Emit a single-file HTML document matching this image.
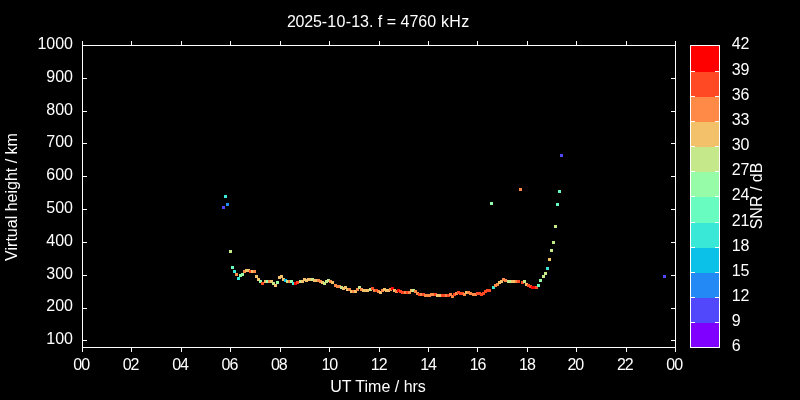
<!DOCTYPE html>
<html lang="en">
<head>
<meta charset="utf-8">
<title>2025-10-13. f = 4760 kHz</title>
<style>
html,body{margin:0;padding:0;background:#000;}
body{width:800px;height:400px;overflow:hidden;}
svg{display:block;}
text{font-family:"Liberation Sans",sans-serif;font-size:16px;fill:#fff;}
.ln{fill:#fff;shape-rendering:crispEdges;}
.pt{shape-rendering:crispEdges;}
</style>
</head>
<body>
<svg width="800" height="400" viewBox="0 0 800 400">
<rect x="0" y="0" width="800" height="400" fill="#000"/>
<g id="points">
<rect class="pt" x="222" y="206" width="3" height="3" fill="#5148fc"/>
<rect class="pt" x="224" y="195" width="3" height="3" fill="#3ae8d7"/>
<rect class="pt" x="226" y="203" width="3" height="3" fill="#238af5"/>
<rect class="pt" x="229" y="250" width="3" height="3" fill="#c5e88a"/>
<rect class="pt" x="231" y="266" width="3" height="3" fill="#68fcc1"/>
<rect class="pt" x="233" y="270" width="3" height="3" fill="#3ae8d7"/>
<rect class="pt" x="235" y="273" width="3" height="3" fill="#ff8a48"/>
<rect class="pt" x="237" y="277" width="3" height="3" fill="#3ae8d7"/>
<rect class="pt" x="239" y="274" width="3" height="3" fill="#97fca7"/>
<rect class="pt" x="241" y="273" width="3" height="3" fill="#97fca7"/>
<rect class="pt" x="243" y="270" width="3" height="3" fill="#ff8a48"/>
<rect class="pt" x="245" y="269" width="3" height="3" fill="#f3c16a"/>
<rect class="pt" x="247" y="269" width="3" height="3" fill="#f3c16a"/>
<rect class="pt" x="249" y="270" width="3" height="3" fill="#ff4824"/>
<rect class="pt" x="251" y="270" width="3" height="3" fill="#f3c16a"/>
<rect class="pt" x="253" y="270" width="3" height="3" fill="#ff8a48"/>
<rect class="pt" x="255" y="275" width="3" height="3" fill="#f3c16a"/>
<rect class="pt" x="257" y="278" width="3" height="3" fill="#f3c16a"/>
<rect class="pt" x="259" y="280" width="3" height="3" fill="#97fca7"/>
<rect class="pt" x="261" y="282" width="3" height="3" fill="#ff4824"/>
<rect class="pt" x="264" y="280" width="3" height="3" fill="#f3c16a"/>
<rect class="pt" x="266" y="280" width="3" height="3" fill="#97fca7"/>
<rect class="pt" x="268" y="280" width="3" height="3" fill="#ff8a48"/>
<rect class="pt" x="270" y="280" width="3" height="3" fill="#f3c16a"/>
<rect class="pt" x="272" y="282" width="3" height="3" fill="#c5e88a"/>
<rect class="pt" x="274" y="284" width="3" height="3" fill="#f3c16a"/>
<rect class="pt" x="276" y="281" width="3" height="3" fill="#97fca7"/>
<rect class="pt" x="278" y="276" width="3" height="3" fill="#f3c16a"/>
<rect class="pt" x="280" y="275" width="3" height="3" fill="#f3c16a"/>
<rect class="pt" x="282" y="278" width="3" height="3" fill="#f3c16a"/>
<rect class="pt" x="284" y="279" width="3" height="3" fill="#0cc1e8"/>
<rect class="pt" x="286" y="280" width="3" height="3" fill="#c5e88a"/>
<rect class="pt" x="288" y="280" width="3" height="3" fill="#ff8a48"/>
<rect class="pt" x="290" y="280" width="3" height="3" fill="#97fca7"/>
<rect class="pt" x="292" y="282" width="3" height="3" fill="#3ae8d7"/>
<rect class="pt" x="294" y="282" width="3" height="3" fill="#ff0000"/>
<rect class="pt" x="296" y="281" width="3" height="3" fill="#ff4824"/>
<rect class="pt" x="299" y="280" width="3" height="3" fill="#c5e88a"/>
<rect class="pt" x="301" y="280" width="3" height="3" fill="#f3c16a"/>
<rect class="pt" x="303" y="278" width="3" height="3" fill="#f3c16a"/>
<rect class="pt" x="305" y="279" width="3" height="3" fill="#f3c16a"/>
<rect class="pt" x="307" y="278" width="3" height="3" fill="#f3c16a"/>
<rect class="pt" x="309" y="278" width="3" height="3" fill="#f3c16a"/>
<rect class="pt" x="311" y="278" width="3" height="3" fill="#c5e88a"/>
<rect class="pt" x="313" y="279" width="3" height="3" fill="#f3c16a"/>
<rect class="pt" x="315" y="279" width="3" height="3" fill="#f3c16a"/>
<rect class="pt" x="317" y="279" width="3" height="3" fill="#ff8a48"/>
<rect class="pt" x="319" y="280" width="3" height="3" fill="#ff8a48"/>
<rect class="pt" x="321" y="281" width="3" height="3" fill="#f3c16a"/>
<rect class="pt" x="323" y="282" width="3" height="3" fill="#c5e88a"/>
<rect class="pt" x="325" y="280" width="3" height="3" fill="#c5e88a"/>
<rect class="pt" x="327" y="279" width="3" height="3" fill="#c5e88a"/>
<rect class="pt" x="329" y="280" width="3" height="3" fill="#ff8a48"/>
<rect class="pt" x="331" y="281" width="3" height="3" fill="#f3c16a"/>
<rect class="pt" x="334" y="284" width="3" height="3" fill="#ff8a48"/>
<rect class="pt" x="336" y="285" width="3" height="3" fill="#ff8a48"/>
<rect class="pt" x="338" y="285" width="3" height="3" fill="#ff8a48"/>
<rect class="pt" x="340" y="286" width="3" height="3" fill="#c5e88a"/>
<rect class="pt" x="342" y="287" width="3" height="3" fill="#f3c16a"/>
<rect class="pt" x="344" y="286" width="3" height="3" fill="#f3c16a"/>
<rect class="pt" x="346" y="288" width="3" height="3" fill="#f3c16a"/>
<rect class="pt" x="348" y="288" width="3" height="3" fill="#ff8a48"/>
<rect class="pt" x="350" y="290" width="3" height="3" fill="#f3c16a"/>
<rect class="pt" x="352" y="290" width="3" height="3" fill="#ff8a48"/>
<rect class="pt" x="354" y="290" width="3" height="3" fill="#f3c16a"/>
<rect class="pt" x="356" y="288" width="3" height="3" fill="#ff8a48"/>
<rect class="pt" x="358" y="286" width="3" height="3" fill="#c5e88a"/>
<rect class="pt" x="360" y="288" width="3" height="3" fill="#ff8a48"/>
<rect class="pt" x="362" y="289" width="3" height="3" fill="#f3c16a"/>
<rect class="pt" x="364" y="289" width="3" height="3" fill="#f3c16a"/>
<rect class="pt" x="366" y="289" width="3" height="3" fill="#f3c16a"/>
<rect class="pt" x="369" y="288" width="3" height="3" fill="#c5e88a"/>
<rect class="pt" x="371" y="287" width="3" height="3" fill="#ff4824"/>
<rect class="pt" x="373" y="289" width="3" height="3" fill="#ff8a48"/>
<rect class="pt" x="375" y="289" width="3" height="3" fill="#ff4824"/>
<rect class="pt" x="377" y="290" width="3" height="3" fill="#ff8a48"/>
<rect class="pt" x="379" y="291" width="3" height="3" fill="#f3c16a"/>
<rect class="pt" x="381" y="289" width="3" height="3" fill="#ff8a48"/>
<rect class="pt" x="383" y="288" width="3" height="3" fill="#f3c16a"/>
<rect class="pt" x="385" y="289" width="3" height="3" fill="#f3c16a"/>
<rect class="pt" x="387" y="289" width="3" height="3" fill="#f3c16a"/>
<rect class="pt" x="389" y="288" width="3" height="3" fill="#ff8a48"/>
<rect class="pt" x="391" y="287" width="3" height="3" fill="#ff0000"/>
<rect class="pt" x="393" y="289" width="3" height="3" fill="#f3c16a"/>
<rect class="pt" x="395" y="290" width="3" height="3" fill="#ff8a48"/>
<rect class="pt" x="397" y="289" width="3" height="3" fill="#ff0000"/>
<rect class="pt" x="399" y="290" width="3" height="3" fill="#ff4824"/>
<rect class="pt" x="401" y="291" width="3" height="3" fill="#ff4824"/>
<rect class="pt" x="404" y="291" width="3" height="3" fill="#ff8a48"/>
<rect class="pt" x="406" y="291" width="3" height="3" fill="#ff4824"/>
<rect class="pt" x="408" y="291" width="3" height="3" fill="#ff8a48"/>
<rect class="pt" x="410" y="289" width="3" height="3" fill="#f3c16a"/>
<rect class="pt" x="412" y="289" width="3" height="3" fill="#c5e88a"/>
<rect class="pt" x="414" y="290" width="3" height="3" fill="#ff8a48"/>
<rect class="pt" x="416" y="292" width="3" height="3" fill="#ff8a48"/>
<rect class="pt" x="418" y="293" width="3" height="3" fill="#ff4824"/>
<rect class="pt" x="420" y="293" width="3" height="3" fill="#ff8a48"/>
<rect class="pt" x="422" y="293" width="3" height="3" fill="#ff4824"/>
<rect class="pt" x="424" y="294" width="3" height="3" fill="#ff8a48"/>
<rect class="pt" x="426" y="294" width="3" height="3" fill="#ff8a48"/>
<rect class="pt" x="428" y="294" width="3" height="3" fill="#ff8a48"/>
<rect class="pt" x="430" y="293" width="3" height="3" fill="#ff8a48"/>
<rect class="pt" x="432" y="293" width="3" height="3" fill="#ff8a48"/>
<rect class="pt" x="434" y="293" width="3" height="3" fill="#ff4824"/>
<rect class="pt" x="436" y="294" width="3" height="3" fill="#f3c16a"/>
<rect class="pt" x="438" y="294" width="3" height="3" fill="#f3c16a"/>
<rect class="pt" x="441" y="294" width="3" height="3" fill="#ff4824"/>
<rect class="pt" x="443" y="294" width="3" height="3" fill="#ff4824"/>
<rect class="pt" x="445" y="294" width="3" height="3" fill="#ff8a48"/>
<rect class="pt" x="447" y="294" width="3" height="3" fill="#ff4824"/>
<rect class="pt" x="449" y="293" width="3" height="3" fill="#ff8a48"/>
<rect class="pt" x="451" y="295" width="3" height="3" fill="#ff8a48"/>
<rect class="pt" x="453" y="293" width="3" height="3" fill="#ff4824"/>
<rect class="pt" x="455" y="292" width="3" height="3" fill="#ff8a48"/>
<rect class="pt" x="457" y="291" width="3" height="3" fill="#ff4824"/>
<rect class="pt" x="459" y="292" width="3" height="3" fill="#ff4824"/>
<rect class="pt" x="461" y="292" width="3" height="3" fill="#ff4824"/>
<rect class="pt" x="463" y="293" width="3" height="3" fill="#ff8a48"/>
<rect class="pt" x="465" y="291" width="3" height="3" fill="#f3c16a"/>
<rect class="pt" x="467" y="291" width="3" height="3" fill="#ff8a48"/>
<rect class="pt" x="469" y="292" width="3" height="3" fill="#ff8a48"/>
<rect class="pt" x="472" y="293" width="3" height="3" fill="#ff8a48"/>
<rect class="pt" x="474" y="293" width="3" height="3" fill="#ff8a48"/>
<rect class="pt" x="476" y="292" width="3" height="3" fill="#ff4824"/>
<rect class="pt" x="478" y="292" width="3" height="3" fill="#ff4824"/>
<rect class="pt" x="480" y="293" width="3" height="3" fill="#ff4824"/>
<rect class="pt" x="482" y="292" width="3" height="3" fill="#ff4824"/>
<rect class="pt" x="484" y="290" width="3" height="3" fill="#ff4824"/>
<rect class="pt" x="486" y="289" width="3" height="3" fill="#ff4824"/>
<rect class="pt" x="488" y="289" width="3" height="3" fill="#ff4824"/>
<rect class="pt" x="492" y="286" width="3" height="3" fill="#3ae8d7"/>
<rect class="pt" x="494" y="284" width="3" height="3" fill="#ff8a48"/>
<rect class="pt" x="496" y="283" width="3" height="3" fill="#ff8a48"/>
<rect class="pt" x="498" y="281" width="3" height="3" fill="#f3c16a"/>
<rect class="pt" x="500" y="280" width="3" height="3" fill="#f3c16a"/>
<rect class="pt" x="502" y="278" width="3" height="3" fill="#ff8a48"/>
<rect class="pt" x="504" y="279" width="3" height="3" fill="#ff8a48"/>
<rect class="pt" x="507" y="280" width="3" height="3" fill="#c5e88a"/>
<rect class="pt" x="509" y="280" width="3" height="3" fill="#c5e88a"/>
<rect class="pt" x="511" y="280" width="3" height="3" fill="#f3c16a"/>
<rect class="pt" x="513" y="280" width="3" height="3" fill="#f3c16a"/>
<rect class="pt" x="515" y="280" width="3" height="3" fill="#ff8a48"/>
<rect class="pt" x="517" y="280" width="3" height="3" fill="#ff4824"/>
<rect class="pt" x="521" y="281" width="3" height="3" fill="#ff4824"/>
<rect class="pt" x="523" y="280" width="3" height="3" fill="#c5e88a"/>
<rect class="pt" x="525" y="283" width="3" height="3" fill="#f3c16a"/>
<rect class="pt" x="527" y="284" width="3" height="3" fill="#ff4824"/>
<rect class="pt" x="529" y="285" width="3" height="3" fill="#ff4824"/>
<rect class="pt" x="531" y="286" width="3" height="3" fill="#ff0000"/>
<rect class="pt" x="533" y="286" width="3" height="3" fill="#ff0000"/>
<rect class="pt" x="535" y="286" width="3" height="3" fill="#ff4824"/>
<rect class="pt" x="537" y="284" width="3" height="3" fill="#68fcc1"/>
<rect class="pt" x="539" y="279" width="3" height="3" fill="#97fca7"/>
<rect class="pt" x="542" y="275" width="3" height="3" fill="#c5e88a"/>
<rect class="pt" x="544" y="272" width="3" height="3" fill="#c5e88a"/>
<rect class="pt" x="546" y="267" width="3" height="3" fill="#3ae8d7"/>
<rect class="pt" x="548" y="258" width="3" height="3" fill="#f3c16a"/>
<rect class="pt" x="550" y="249" width="3" height="3" fill="#c5e88a"/>
<rect class="pt" x="552" y="241" width="3" height="3" fill="#c5e88a"/>
<rect class="pt" x="554" y="225" width="3" height="3" fill="#c5e88a"/>
<rect class="pt" x="556" y="203" width="3" height="3" fill="#68fcc1"/>
<rect class="pt" x="558" y="190" width="3" height="3" fill="#68fcc1"/>
<rect class="pt" x="560" y="154" width="3" height="3" fill="#5148fc"/>
<rect class="pt" x="490" y="202" width="3" height="3" fill="#97fca7"/>
<rect class="pt" x="519" y="188" width="3" height="3" fill="#ff8a48"/>
<rect class="pt" x="663" y="275" width="3" height="3" fill="#5148fc"/>
</g>
<g id="axes">
<rect class="ln" x="82" y="45" width="594" height="1"/>
<rect class="ln" x="82" y="347" width="594" height="1"/>
<rect class="ln" x="82" y="45" width="1" height="303"/>
<rect class="ln" x="675" y="45" width="1" height="303"/>
<rect class="ln" x="82" y="41" width="1" height="4"/>
<rect class="ln" x="82" y="348" width="1" height="4"/>
<rect class="ln" x="131" y="41" width="1" height="4"/>
<rect class="ln" x="131" y="348" width="1" height="4"/>
<rect class="ln" x="181" y="41" width="1" height="4"/>
<rect class="ln" x="181" y="348" width="1" height="4"/>
<rect class="ln" x="230" y="41" width="1" height="4"/>
<rect class="ln" x="230" y="348" width="1" height="4"/>
<rect class="ln" x="280" y="41" width="1" height="4"/>
<rect class="ln" x="280" y="348" width="1" height="4"/>
<rect class="ln" x="329" y="41" width="1" height="4"/>
<rect class="ln" x="329" y="348" width="1" height="4"/>
<rect class="ln" x="379" y="41" width="1" height="4"/>
<rect class="ln" x="379" y="348" width="1" height="4"/>
<rect class="ln" x="428" y="41" width="1" height="4"/>
<rect class="ln" x="428" y="348" width="1" height="4"/>
<rect class="ln" x="477" y="41" width="1" height="4"/>
<rect class="ln" x="477" y="348" width="1" height="4"/>
<rect class="ln" x="527" y="41" width="1" height="4"/>
<rect class="ln" x="527" y="348" width="1" height="4"/>
<rect class="ln" x="576" y="41" width="1" height="4"/>
<rect class="ln" x="576" y="348" width="1" height="4"/>
<rect class="ln" x="626" y="41" width="1" height="4"/>
<rect class="ln" x="626" y="348" width="1" height="4"/>
<rect class="ln" x="675" y="41" width="1" height="4"/>
<rect class="ln" x="675" y="348" width="1" height="4"/>
<rect class="ln" x="83" y="78" width="4" height="1"/>
<rect class="ln" x="671" y="78" width="4" height="1"/>
<rect class="ln" x="83" y="111" width="4" height="1"/>
<rect class="ln" x="671" y="111" width="4" height="1"/>
<rect class="ln" x="83" y="143" width="4" height="1"/>
<rect class="ln" x="671" y="143" width="4" height="1"/>
<rect class="ln" x="83" y="176" width="4" height="1"/>
<rect class="ln" x="671" y="176" width="4" height="1"/>
<rect class="ln" x="83" y="209" width="4" height="1"/>
<rect class="ln" x="671" y="209" width="4" height="1"/>
<rect class="ln" x="83" y="242" width="4" height="1"/>
<rect class="ln" x="671" y="242" width="4" height="1"/>
<rect class="ln" x="83" y="275" width="4" height="1"/>
<rect class="ln" x="671" y="275" width="4" height="1"/>
<rect class="ln" x="83" y="308" width="4" height="1"/>
<rect class="ln" x="671" y="308" width="4" height="1"/>
<rect class="ln" x="83" y="340" width="4" height="1"/>
<rect class="ln" x="671" y="340" width="4" height="1"/>
</g>
<g id="xticklabels" text-anchor="middle" letter-spacing="-1">
<text x="81.20" y="370">00</text>
<text x="130.62" y="370">02</text>
<text x="180.03" y="370">04</text>
<text x="229.45" y="370">06</text>
<text x="278.87" y="370">08</text>
<text x="329.28" y="370">10</text>
<text x="378.70" y="370">12</text>
<text x="428.12" y="370">14</text>
<text x="477.53" y="370">16</text>
<text x="526.95" y="370">18</text>
<text x="575.37" y="370">20</text>
<text x="624.78" y="370">22</text>
<text x="674.20" y="370">00</text>
</g>
<g id="yticklabels" text-anchor="end">
<text x="73" y="48.85">1000</text>
<text x="73" y="81.68">900</text>
<text x="73" y="114.51">800</text>
<text x="73" y="147.34">700</text>
<text x="73" y="180.17">600</text>
<text x="73" y="213.00">500</text>
<text x="73" y="245.83">400</text>
<text x="73" y="278.66">300</text>
<text x="73" y="311.49">200</text>
<text x="73" y="344.32">100</text>
</g>
<g id="colorbar">
<rect class="pt" x="691" y="46" width="28" height="26" fill="#ff0000"/>
<rect class="pt" x="691" y="72" width="28" height="25" fill="#ff4824"/>
<rect class="pt" x="691" y="97" width="28" height="25" fill="#ff8a48"/>
<rect class="pt" x="691" y="122" width="28" height="25" fill="#f3c16a"/>
<rect class="pt" x="691" y="147" width="28" height="25" fill="#c5e88a"/>
<rect class="pt" x="691" y="172" width="28" height="25" fill="#97fca7"/>
<rect class="pt" x="691" y="197" width="28" height="26" fill="#68fcc1"/>
<rect class="pt" x="691" y="223" width="28" height="25" fill="#3ae8d7"/>
<rect class="pt" x="691" y="248" width="28" height="25" fill="#0cc1e8"/>
<rect class="pt" x="691" y="273" width="28" height="25" fill="#238af5"/>
<rect class="pt" x="691" y="298" width="28" height="25" fill="#5148fc"/>
<rect class="pt" x="691" y="323" width="28" height="25" fill="#8000ff"/>
<rect class="ln" x="690" y="45" width="30" height="1"/>
<rect class="ln" x="690" y="347" width="30" height="1"/>
<rect class="ln" x="690" y="45" width="1" height="303"/>
<rect class="ln" x="719" y="45" width="1" height="303"/>
<rect class="ln" x="691" y="71" width="4" height="1"/>
<rect class="ln" x="715" y="71" width="4" height="1"/>
<rect class="ln" x="691" y="96" width="4" height="1"/>
<rect class="ln" x="715" y="96" width="4" height="1"/>
<rect class="ln" x="691" y="121" width="4" height="1"/>
<rect class="ln" x="715" y="121" width="4" height="1"/>
<rect class="ln" x="691" y="146" width="4" height="1"/>
<rect class="ln" x="715" y="146" width="4" height="1"/>
<rect class="ln" x="691" y="171" width="4" height="1"/>
<rect class="ln" x="715" y="171" width="4" height="1"/>
<rect class="ln" x="691" y="196" width="4" height="1"/>
<rect class="ln" x="715" y="196" width="4" height="1"/>
<rect class="ln" x="691" y="222" width="4" height="1"/>
<rect class="ln" x="715" y="222" width="4" height="1"/>
<rect class="ln" x="691" y="247" width="4" height="1"/>
<rect class="ln" x="715" y="247" width="4" height="1"/>
<rect class="ln" x="691" y="272" width="4" height="1"/>
<rect class="ln" x="715" y="272" width="4" height="1"/>
<rect class="ln" x="691" y="297" width="4" height="1"/>
<rect class="ln" x="715" y="297" width="4" height="1"/>
<rect class="ln" x="691" y="322" width="4" height="1"/>
<rect class="ln" x="715" y="322" width="4" height="1"/>
</g>
<g id="cbarlabels">
<text x="731.7" y="48.90">42</text>
<text x="731.7" y="74.90">39</text>
<text x="731.7" y="99.90">36</text>
<text x="731.7" y="124.90">33</text>
<text x="731.7" y="149.90">30</text>
<text x="731.7" y="174.90">27</text>
<text x="731.7" y="199.90">24</text>
<text x="731.7" y="225.90">21</text>
<text x="731.7" y="250.90">18</text>
<text x="731.7" y="275.90">15</text>
<text x="731.7" y="300.90">12</text>
<text x="731.7" y="325.90">9</text>
<text x="731.7" y="350.90">6</text>
</g>
<text id="title" x="286.9" y="26.8" text-anchor="start"><tspan letter-spacing="-0.2">2025</tspan><tspan letter-spacing="0.33">-10</tspan>-13. f = 4760<tspan letter-spacing="0.4"> kHz</tspan></text>
<text id="xlabel" x="378" y="392" text-anchor="middle">UT Time / hrs</text>
<text id="ylabel" transform="translate(17,197) rotate(-90)" text-anchor="middle">Virtual height / km</text>
<text id="cblabel" transform="translate(762,196) rotate(-90)" text-anchor="middle">SNR / dB</text>
</svg>
</body>
</html>
